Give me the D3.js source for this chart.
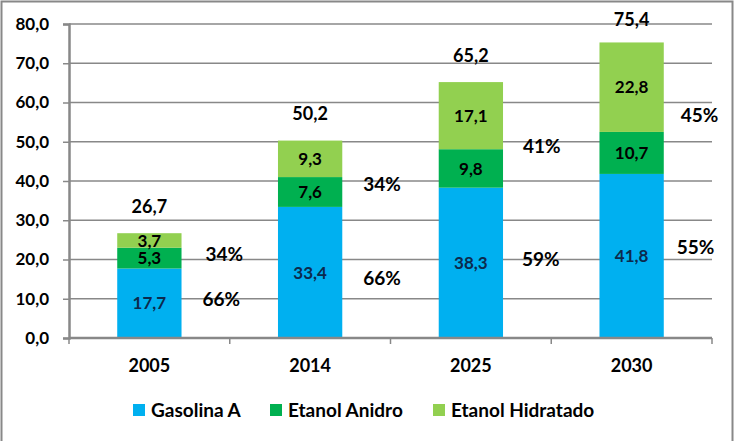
<!DOCTYPE html>
<html><head><meta charset="utf-8">
<script src="https://cdn.jsdelivr.net/npm/d3@7"></script>
<style>body{margin:0;background:#fff}svg{display:block}text{font-family:Lato,"Open Sans",sans-serif;font-weight:bold}</style>
</head><body><svg id="c" width="736" height="441"></svg>
<script>
const categories = ["2005","2014","2025","2030"];
const gasolinaA = [17.7, 33.4, 38.3, 41.8];
const etanolAnidro = [5.3, 7.6, 9.8, 10.7];
const etanolHidratado = [3.7, 9.3, 17.1, 22.8];
const totals = [26.7, 50.2, 65.2, 75.4];
const pctGasolina = ["66%","66%","59%","55%"];
const pctEtanol = ["34%","34%","41%","45%"];
const yTicks = [0,10,20,30,40,50,60,70,80];
const seriesNames = ["Gasolina A","Etanol Anidro","Etanol Hidratado"];
const colors = ["#00B0F0","#00B050","#92D050"];
// label anchor heights (value units) and horizontal offsets for the percentage labels
const pctEtanolAt = [21.4, 39.2, 48.9, 56.8];
const pctGasolinaAt = [10.0, 15.3, 20.1, 23.2];
const pctEtanolDx = [75, 72, 71, 68];
const pctGasolinaDx = [72, 72, 70, 64];

const svg = d3.select("#c");
svg.append("rect").attr("x",1.5).attr("y",1.5).attr("width",731).attr("height",460)
  .attr("fill","#fff").attr("stroke","#888").attr("stroke-width",2);

const L=69, R=712, T=24, B=338;
const x = d3.scaleBand().domain(categories).range([L,R]).paddingInner(0.6).paddingOuter(0.3);
const y = d3.scaleLinear().domain([0,80]).range([B,T]);
const grid="#888";

// gridlines
svg.append("g").selectAll("line").data(yTicks.filter(d=>d>0)).join("line")
  .attr("x1",L).attr("x2",R).attr("y1",d=>y(d)).attr("y2",d=>y(d))
  .attr("stroke",grid).attr("stroke-width",1.5);

// y axis
const ya = svg.append("g").attr("transform",`translate(${L},0)`)
  .call(d3.axisLeft(y).tickValues(yTicks).tickSize(6).tickPadding(14)
    .tickFormat(d=>d3.format(".1f")(d).replace(".",",")));
ya.select(".domain").attr("stroke",grid).attr("stroke-width",2.5);
ya.selectAll(".tick line").attr("stroke",grid).attr("stroke-width",1.5);
ya.selectAll("text").attr("font-size",17).attr("fill","#000").attr("font-family","Lato").attr("font-weight","bold");

// stacked data
const rows = categories.map((c,i)=>({cat:c, "Gasolina A":gasolinaA[i], "Etanol Anidro":etanolAnidro[i], "Etanol Hidratado":etanolHidratado[i]}));
const stack = d3.stack().keys(seriesNames)(rows);
const fmt = v=>d3.format(".1f")(v).replace(".",",");

stack.forEach((s,si)=>{
  const g = svg.append("g");
  g.selectAll("rect").data(s).join("rect")
    .attr("x",d=>x(d.data.cat)).attr("width",x.bandwidth())
    .attr("y",d=>y(d[1])).attr("height",d=>y(d[0])-y(d[1]))
    .attr("fill",colors[si]);
  g.selectAll("text").data(s).join("text")
    .attr("x",d=>x(d.data.cat)+x.bandwidth()/2)
    .attr("y",d=>(y(d[0])+y(d[1]))/2)
    .attr("dy","0.36em").attr("text-anchor","middle").attr("font-size",17)
    .attr("fill", si===0 ? "#0c2a4d" : "#000")
    .text(d=>fmt(d[1]-d[0]));
});

// x axis
const xa = svg.append("g").attr("transform",`translate(0,${B})`);
xa.append("line").attr("x1",L).attr("x2",R).attr("stroke",grid).attr("stroke-width",2.5);
const step = x.step();
d3.range(categories.length+1).forEach(i=>{
  const xx = L + i*step;
  xa.append("line").attr("x1",xx).attr("x2",xx).attr("y1",0).attr("y2",6).attr("stroke",grid).attr("stroke-width",1.5);
});
xa.selectAll("text.cat").data(categories).join("text").attr("class","cat")
  .attr("x",d=>x(d)+x.bandwidth()/2).attr("y",34).attr("text-anchor","middle")
  .attr("font-size",18).attr("fill","#000").text(d=>d);

// totals
svg.append("g").selectAll("text").data(totals).join("text")
  .attr("x",(d,i)=>x(categories[i])+x.bandwidth()/2)
  .attr("y",d=>Math.max(y(d)-27, 20)).attr("dy","0.36em")
  .attr("text-anchor","middle").attr("font-size",18).attr("fill","#000")
  .text(d=>fmt(d));

// percentage labels
const pg = svg.append("g");
pg.selectAll("text.pe").data(pctEtanol).join("text").attr("class","pe")
  .attr("x",(d,i)=>x(categories[i])+x.bandwidth()/2+pctEtanolDx[i])
  .attr("y",(d,i)=>y(pctEtanolAt[i])).attr("dy","0.36em")
  .attr("text-anchor","middle").attr("font-size",19).attr("fill","#000").text(d=>d);
pg.selectAll("text.pg").data(pctGasolina).join("text").attr("class","pg")
  .attr("x",(d,i)=>x(categories[i])+x.bandwidth()/2+pctGasolinaDx[i])
  .attr("y",(d,i)=>y(pctGasolinaAt[i])).attr("dy","0.36em")
  .attr("text-anchor","middle").attr("font-size",19).attr("fill","#000").text(d=>d);

// legend
const legX = [133, 270, 433];
const lg = svg.append("g");
seriesNames.forEach((n,i)=>{
  lg.append("rect").attr("x",legX[i]).attr("y",404).attr("width",12).attr("height",12).attr("fill",colors[i]);
  lg.append("text").attr("x",legX[i]+18).attr("y",410).attr("dy","0.36em").attr("font-size",19).attr("fill","#000").text(n);
});
</script></body></html>
